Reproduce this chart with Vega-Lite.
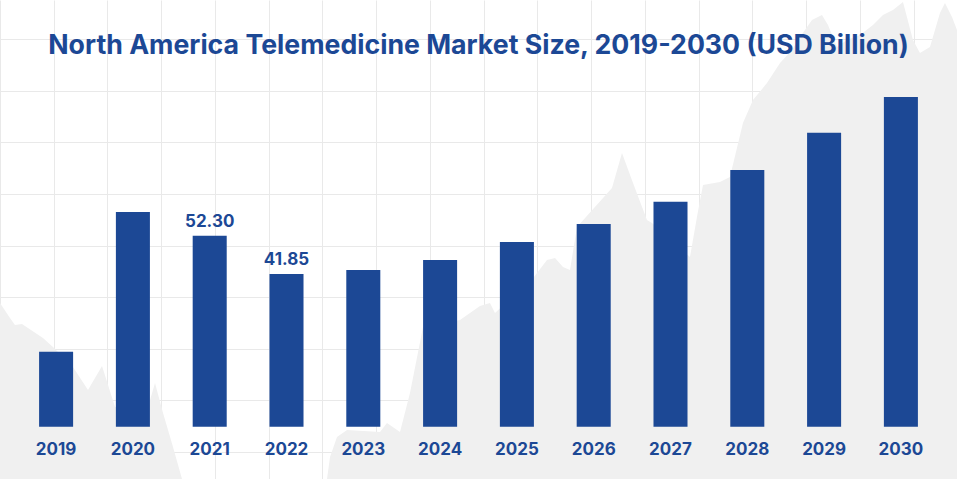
{
  "$schema": "https://vega.github.io/schema/vega-lite/v6.json",
  "width": 957,
  "height": 479,
  "autosize": {"type": "none"},
  "padding": 0,
  "background": "#ffffff",
  "config": {"view": {"stroke": null}},
  "title": {
    "text": "North America Telemedicine Market Size, 2019-2030 (USD Billion)",
    "font": "Inter",
    "fontSize": 26.7,
    "fontWeight": 700,
    "color": "#1c4895",
    "anchor": "middle",
    "frame": "group",
    "orient": "top",
    "baseline": "alphabetic",
    "offset": -81
  },
  "datasets": {
    "market": [
      {"year": "2019", "value": 20.5},
      {"year": "2020", "value": 58.8},
      {"year": "2021", "value": 52.30, "label": "52.30"},
      {"year": "2022", "value": 41.85, "label": "41.85"},
      {"year": "2023", "value": 42.9},
      {"year": "2024", "value": 45.7},
      {"year": "2025", "value": 50.6},
      {"year": "2026", "value": 55.5},
      {"year": "2027", "value": 61.6},
      {"year": "2028", "value": 70.3},
      {"year": "2029", "value": 80.5},
      {"year": "2030", "value": 90.3}
    ],
    "backdrop": [
      {"u": 0, "v": 2.888}, {"u": 0.186, "v": 2.597}, {"u": 0.279, "v": 2.461}, {"u": 0.409, "v": 2.481},
      {"u": 0.8, "v": 2.209}, {"u": 0.986, "v": 2.035}, {"u": 1.358, "v": 1.647}, {"u": 1.637, "v": 1.202},
      {"u": 1.898, "v": 1.667}, {"u": 2.14, "v": 0.872}, {"u": 2.791, "v": 1.008}, {"u": 2.884, "v": 1.337},
      {"u": 3.033, "v": 0.756}, {"u": 3.219, "v": 0.097}, {"u": 3.386, "v": -0.523}, {"u": 3.535, "v": -1},
      {"u": 5.953, "v": -1}, {"u": 6.084, "v": -0.523}, {"u": 6.14, "v": -0.097}, {"u": 6.27, "v": 0.291},
      {"u": 6.456, "v": 0.426}, {"u": 7.07, "v": 0.388}, {"u": 7.2, "v": 0.562}, {"u": 7.442, "v": 0.388},
      {"u": 7.628, "v": 1.143}, {"u": 7.87, "v": 2.422}, {"u": 8.558, "v": 2.558}, {"u": 8.744, "v": 2.694},
      {"u": 8.93, "v": 2.829}, {"u": 9.116, "v": 2.888}, {"u": 9.209, "v": 2.694}, {"u": 9.935, "v": 3.391},
      {"u": 10.177, "v": 3.721}, {"u": 10.326, "v": 3.76}, {"u": 10.474, "v": 3.585}, {"u": 10.605, "v": 3.527},
      {"u": 10.735, "v": 4.36}, {"u": 11.386, "v": 5.116}, {"u": 11.572, "v": 5.795}, {"u": 11.777, "v": 5.213},
      {"u": 12.037, "v": 4.496}, {"u": 12.13, "v": 4.438}, {"u": 12.837, "v": 3.779}, {"u": 12.967, "v": 4.554},
      {"u": 13.079, "v": 5.174}, {"u": 13.395, "v": 5.233}, {"u": 13.581, "v": 5.329}, {"u": 13.823, "v": 6.376},
      {"u": 14.009, "v": 6.822}, {"u": 14.27, "v": 7.151}, {"u": 14.512, "v": 7.539}, {"u": 14.735, "v": 7.791},
      {"u": 14.884, "v": 8.043}, {"u": 15.107, "v": 8.372}, {"u": 15.293, "v": 8.469}, {"u": 15.405, "v": 8.275},
      {"u": 15.572, "v": 7.849}, {"u": 15.758, "v": 7.984}, {"u": 16.0, "v": 8.081}, {"u": 16.242, "v": 8.275},
      {"u": 16.428, "v": 8.469}, {"u": 16.614, "v": 8.566}, {"u": 16.8, "v": 8.721}, {"u": 16.986, "v": 7.984},
      {"u": 17.116, "v": 7.733}, {"u": 17.302, "v": 7.849}, {"u": 17.488, "v": 8.508}, {"u": 17.581, "v": 8.702},
      {"u": 17.712, "v": 8.43}, {"u": 17.805, "v": 8.178}
    ]
  },
  "layer": [
    {
      "data": {"name": "backdrop"},
      "mark": {"type": "area", "color": "#f0f0f0", "interpolate": "linear"},
      "encoding": {
        "x": {
          "field": "u", "type": "quantitative",
          "scale": {"domain": [0, 17.805], "nice": false, "zero": false},
          "axis": {"orient": "top", "values": [0,1,2,3,4,5,6,7,8,9,10,11,12,13,14,15,16,17], "grid": true, "gridColor": "#e9e9e9", "gridWidth": 1, "labels": false, "ticks": false, "domain": false, "title": null, "zindex": 0}
        },
        "y": {
          "field": "v", "type": "quantitative",
          "scale": {"domain": [-0.523, 8.76], "nice": false, "zero": false},
          "axis": {"orient": "right", "values": [0,1,2,3,4,5,6,7,8], "grid": true, "gridColor": "#e9e9e9", "gridWidth": 1, "labels": false, "ticks": false, "domain": false, "title": null, "zindex": 0}
        },
        "y2": {"datum": -1}
      }
    },
    {
      "data": {"name": "market"},
      "layer": [
        {
          "mark": {"type": "bar", "color": "#1c4895", "cornerRadius": 0},
          "encoding": {
            "x": {
              "field": "year", "type": "nominal",
              "scale": {"paddingInner": 0.557, "paddingOuter": 0.509},
              "axis": {"orient": "bottom", "offset": -25, "labelPadding": 0, "ticks": false, "tickSize": 0, "domain": false, "grid": false, "title": null, "labelAngle": 0, "labelBaseline": "alphabetic", "labelFont": "Inter", "labelFontSize": 17, "labelFontWeight": 700, "labelColor": "#1c4895", "zindex": 1}
            },
            "y": {
              "field": "value", "type": "quantitative",
              "scale": {"domain": [-14.33, 116.9], "nice": false, "zero": false},
              "axis": null
            }
          }
        },
        {
          "transform": [{"filter": "isValid(datum.label)"}],
          "mark": {"type": "text", "font": "Inter", "fontSize": 17, "fontWeight": 700, "color": "#1c4895", "baseline": "alphabetic", "dy": -9},
          "encoding": {
            "x": {"field": "year", "type": "nominal"},
            "y": {"field": "value", "type": "quantitative"},
            "text": {"field": "label", "type": "nominal"}
          }
        }
      ]
    }
  ],
  "resolve": {"scale": {"x": "independent", "y": "independent"}}
}
